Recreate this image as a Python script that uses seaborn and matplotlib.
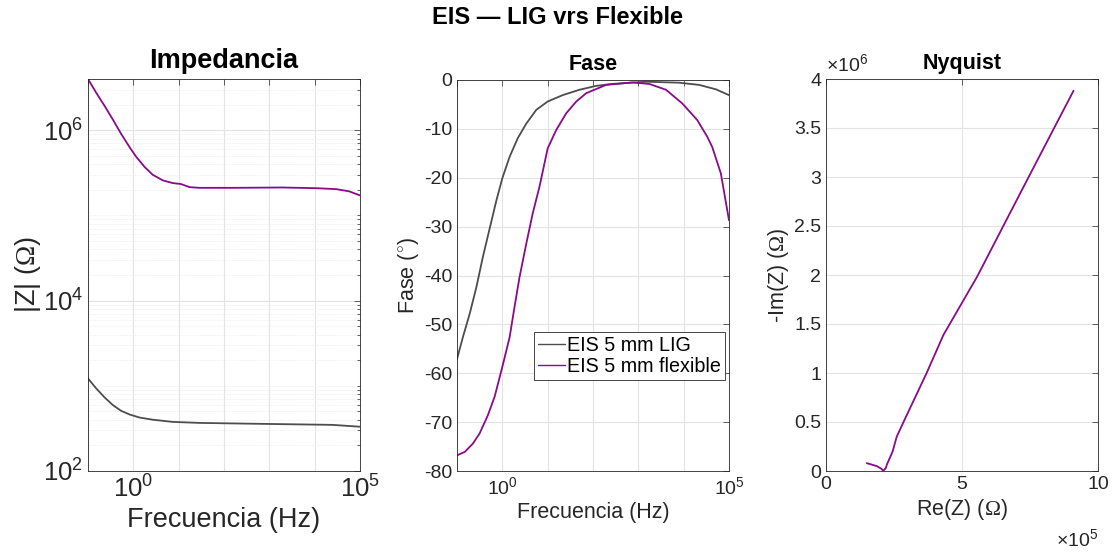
import numpy as np
import pandas as pd
import matplotlib
matplotlib.use("Agg")
import matplotlib.pyplot as plt
import seaborn as sns
from matplotlib.ticker import FixedLocator, FuncFormatter, NullFormatter, LogLocator

# ---------------- data ----------------
mag_freq_lig = [0.1, 0.151, 0.234, 0.355, 0.537, 0.832, 1.38, 2.69, 7.41, 28.8,
                851, 24547, 100000]
mag_lig = [1220, 935, 728, 593, 509, 460, 424, 400, 377, 367,
           357, 348, 331]

mag_freq_flex = [0.1, 0.151, 0.234, 0.355, 0.537, 0.832, 1.15, 1.78, 2.69, 4.47,
                 7.41, 11.2, 17.4, 28.8, 155, 1950, 10715, 29512, 57544, 100000]
mag_flex = [4.0e6, 2.77e6, 1.92e6, 1.33e6, 9.1e5, 6.3e5, 4.9e5, 3.7e5, 3.0e5, 2.58e5,
            2.40e5, 2.34e5, 2.15e5, 2.11e5, 2.11e5, 2.13e5, 2.09e5, 2.04e5, 1.92e5, 1.72e5]

ph_freq_lig = [0.1, 0.135, 0.191, 0.269, 0.372, 0.525, 0.741, 1, 1.45, 2.19, 3.39,
               5.62, 10, 21.4, 50.1, 117, 269, 1479, 7943, 21878, 51286, 100000]
ph_lig = [-57.1, -52.6, -47.8, -42.3, -36.2, -30.4, -24.6, -20.1, -15.7, -11.9, -8.9,
          -6.1, -4.4, -3.1, -2.0, -1.2, -0.8, -0.35, -0.55, -1.0, -1.9, -3.1]

ph_freq_flex = [0.1, 0.148, 0.224, 0.316, 0.479, 0.676, 1, 1.45, 1.86, 2.40, 3.39,
                4.68, 6.61, 10, 15.5, 25.7, 42.7, 70.8, 195, 741, 1738, 4074,
                9333, 19953, 33113, 42658, 66069, 100000]
ph_flex = [-76.8, -76.1, -74.4, -72.3, -68.6, -64.8, -58.7, -52.6, -46.4, -40.3, -33.4,
           -27.3, -21.8, -14.0, -10.2, -6.8, -4.4, -2.7, -1.0, -0.5, -0.8, -2.0,
           -4.8, -8.2, -11.6, -13.7, -19.1, -28.7]

nyq_re = [1.5e5, 1.87e5, 2.05e5, 2.1e5, 2.2e5, 2.23e5, 2.45e5, 2.6e5, 2.85e5, 3.7e5,
          4.32e5, 5.55e5, 7.45e5, 9.1e5]
nyq_im = [0.08e6, 0.05e6, 0.02e6, 0.0, 0.03e6, 0.06e6, 0.2e6, 0.35e6, 0.5e6, 1.0e6,
          1.39e6, 1.98e6, 3.0e6, 3.88e6]

labels = ["EIS 5 mm LIG", "EIS 5 mm flexible"]
colors = ["#4d4d4d", "#8a0a8a"]

# ---------------- style ----------------
sns.set_theme(style="white")
plt.rcParams['font.family'] = ['Liberation Sans', 'DejaVu Sans']
plt.rcParams['axes.unicode_minus'] = False
plt.rcParams['mathtext.fontset'] = 'custom'
plt.rcParams['mathtext.rm'] = 'Liberation Sans'
plt.rcParams['mathtext.it'] = 'Liberation Sans'
plt.rcParams['mathtext.sf'] = 'Liberation Serif'
TXT = "#262626"
GRID = "#e3e3e3"
OM = "$\\mathsf{\\Omega}$"

fig = plt.figure(figsize=(11.15, 5.52), dpi=100)
W, H = 1115, 552
def add_ax(left, right, top, bottom):
    return fig.add_axes([left / W, (H - bottom) / H, (right - left) / W, (bottom - top) / H])

ax1 = add_ax(88, 360, 79, 471)
ax2 = add_ax(457, 729, 80, 471)
ax3 = add_ax(826, 1098, 79, 471)

def style_ax(ax, tsize):
    for s in ax.spines.values():
        s.set_color(TXT)
        s.set_linewidth(0.6)
        s.set_visible(True)
    ax.tick_params(which='both', direction='in', top=True, right=True,
                   colors=TXT, labelcolor=TXT, labelsize=tsize, width=0.5)
    ax.tick_params(which='major', length=4)
    ax.tick_params(which='minor', length=2)
    ax.set_axisbelow(True)

def pow_fmt(show):
    def f(v, pos):
        e = int(round(np.log10(v)))
        return f"$10^{{{e}}}$" if e in show else ""
    return FuncFormatter(f)

# ---------- panel 1: impedance ----------
df_mag = pd.DataFrame({"f": mag_freq_lig + mag_freq_flex, "z": mag_lig + mag_flex,
                       "s": [labels[0]] * len(mag_freq_lig) + [labels[1]] * len(mag_freq_flex)})
sns.lineplot(data=df_mag, x="f", y="z", hue="s", palette=colors, ax=ax1,
             legend=False, linewidth=1.3, sort=False)
ax1.set_xscale("log"); ax1.set_yscale("log")
ax1.set_xlim(0.1, 1e5); ax1.set_ylim(100, 4.0e6)
ax1.xaxis.set_major_locator(FixedLocator([10.0 ** k for k in range(-1, 6)]))
ax1.xaxis.set_major_formatter(pow_fmt({0, 5}))
ax1.xaxis.set_minor_locator(FixedLocator([]))
ax1.yaxis.set_major_locator(FixedLocator([1e2, 1e4, 1e6]))
ax1.yaxis.set_major_formatter(pow_fmt({2, 4, 6}))
ax1.yaxis.set_minor_locator(LogLocator(base=10, subs=np.arange(1, 10), numticks=50))
ax1.yaxis.set_minor_formatter(NullFormatter())
style_ax(ax1, 18.5)
ax1.grid(True, which='major', color=GRID, linewidth=0.8)
ax1.grid(True, which='minor', axis='y', color="#ececec", linewidth=0.6, linestyle=(0, (1, 1)))
ax1.set_title("Impedancia", fontsize=19.5, fontweight='bold', color='black', pad=8)
ax1.set_xlabel("Frecuencia (Hz)", fontsize=19.5, color=TXT, labelpad=3)
ax1.set_ylabel("|Z| (" + OM + ")", fontsize=19.5, color=TXT, labelpad=0)

# ---------- panel 2: phase ----------
df_ph = pd.DataFrame({"f": ph_freq_lig + ph_freq_flex, "p": ph_lig + ph_flex,
                      "s": [labels[0]] * len(ph_freq_lig) + [labels[1]] * len(ph_freq_flex)})
sns.lineplot(data=df_ph, x="f", y="p", hue="s", palette=colors, ax=ax2,
             linewidth=1.3, sort=False)
ax2.set_xscale("log")
ax2.set_xlim(0.1, 1e5); ax2.set_ylim(-80, 0)
ax2.xaxis.set_major_locator(FixedLocator([10.0 ** k for k in range(-1, 6)]))
ax2.xaxis.set_major_formatter(pow_fmt({0, 5}))
ax2.xaxis.set_minor_locator(FixedLocator([]))
ax2.yaxis.set_major_locator(FixedLocator(list(range(-80, 1, 10))))
style_ax(ax2, 14)
ax2.grid(True, which='major', color=GRID, linewidth=0.8)
ax2.set_title("Fase", fontsize=15.5, fontweight='bold', color='black', pad=7)
ax2.set_xlabel("Frecuencia (Hz)", fontsize=15.5, color=TXT, labelpad=3)
ax2.set_ylabel("Fase ($^{\\circ}$)", fontsize=15.5, color=TXT, labelpad=2)
leg = ax2.legend(loc='lower right', bbox_to_anchor=(0.985, 0.233), fontsize=14.2,
                 frameon=True, fancybox=False, framealpha=1, edgecolor=TXT,
                 handlelength=1.4, handletextpad=0.1, borderpad=0.2,
                 labelspacing=0.1, borderaxespad=0)
leg.get_frame().set_linewidth(0.6)
for t in leg.get_texts():
    t.set_color('black')
for h in leg.get_lines():
    h.set_linewidth(1.0)

# ---------- panel 3: Nyquist ----------
df_nyq = pd.DataFrame({"re": nyq_re, "im": nyq_im})
sns.lineplot(data=df_nyq, x="re", y="im", color=colors[1], ax=ax3,
             linewidth=1.3, sort=False, estimator=None)
ax3.set_xlim(0, 1e6); ax3.set_ylim(0, 4e6)
ax3.xaxis.set_major_locator(FixedLocator([0, 5e5, 1e6]))
ax3.xaxis.set_major_formatter(FuncFormatter(lambda v, p: f"{v / 1e5:g}"))
ax3.yaxis.set_major_locator(FixedLocator(list(np.arange(0, 4.01e6, 0.5e6))))
ax3.yaxis.set_major_formatter(FuncFormatter(lambda v, p: f"{v / 1e6:g}"))
style_ax(ax3, 14)
ax3.grid(True, which='major', color=GRID, linewidth=0.8)
ax3.set_title("Nyquist", fontsize=15.5, fontweight='bold', color='black', pad=7)
ax3.set_xlabel("Re(Z) (" + OM + ")", fontsize=15.5, color=TXT, labelpad=3)
ax3.set_ylabel("-Im(Z) (" + OM + ")", fontsize=15.5, color=TXT, labelpad=2)
ax3.text(0.0, 1.01, "$\\times10^{6}$", transform=ax3.transAxes, fontsize=14,
         color=TXT, ha='left', va='bottom')
ax3.text(1.0, -0.145, "$\\times10^{5}$", transform=ax3.transAxes, fontsize=14,
         color=TXT, ha='right', va='top')

fig.suptitle("EIS — LIG vrs Flexible", fontsize=17, fontweight='bold', y=0.99, color='black')

fig.savefig("out.png", dpi=100, facecolor='white')
